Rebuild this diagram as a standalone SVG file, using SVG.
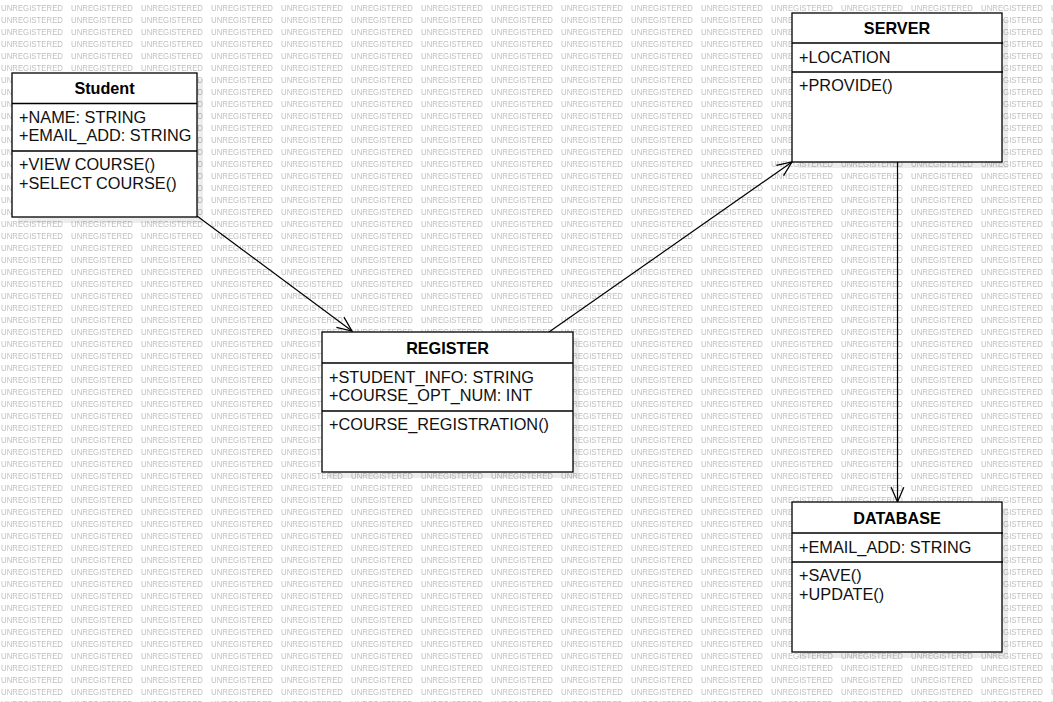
<svg xmlns="http://www.w3.org/2000/svg" width="1053" height="702" viewBox="0 0 1053 702">
<style>
.box{fill:#fff;stroke:#000;stroke-width:1.3}
.shadow{fill:#000;opacity:0.07}
.sep{stroke:#000;stroke-width:1.3}
.title{font-family:"Liberation Sans",Arial,sans-serif;font-size:16.2px;font-weight:bold;text-anchor:middle;fill:#000}
.txt{font-family:"Liberation Sans",Arial,sans-serif;font-size:16.3px;fill:#111}
.wm{font-family:"Liberation Sans",Arial,sans-serif;font-size:8.8px;fill:#bfbfbf}
.conn{stroke:#000;stroke-width:1.2;fill:none}
</style>
<defs>
<pattern id="wmp" x="0" y="0" width="70" height="12" patternUnits="userSpaceOnUse">
<text class="wm" x="1" y="11" textLength="62" lengthAdjust="spacingAndGlyphs">UNREGISTERED</text>
</pattern>
<marker id="arr" markerUnits="userSpaceOnUse" markerWidth="20" markerHeight="20" viewBox="-17 -9 19 18" refX="0" refY="0" orient="auto">
<path d="M-14,-6 L0,0 L-14,6" fill="none" stroke="#000" stroke-width="1.2"/>
</marker>
</defs>
<rect width="1053" height="702" fill="#fff"/>
<rect width="1053" height="702" fill="url(#wmp)"/>

<g id="connectors">
<path class="conn" d="M197,216 L352,331" marker-end="url(#arr)"/>
<path class="conn" d="M549,332 L792,162" marker-end="url(#arr)"/>
<path class="conn" d="M897.5,162 L897.5,502" marker-end="url(#arr)"/>
</g>

<g id="student">
<rect class="shadow" x="18" y="79" width="185" height="144"/>
<rect class="box" x="12" y="73" width="185" height="144"/>
<line class="sep" x1="12" y1="103.5" x2="197" y2="103.5"/>
<line class="sep" x1="12" y1="151" x2="197" y2="151"/>
<text class="title" x="104.5" y="94">Student</text>
<text class="txt" x="19" y="122.5">+NAME: STRING</text>
<text class="txt" x="19" y="140.5">+EMAIL_ADD: STRING</text>
<text class="txt" x="19" y="169.5">+VIEW COURSE()</text>
<text class="txt" x="19" y="188.5">+SELECT COURSE()</text>
</g>

<g id="register">
<rect class="shadow" x="328" y="338" width="251" height="140"/>
<rect class="box" x="322" y="332" width="251" height="140"/>
<line class="sep" x1="322" y1="363" x2="573" y2="363"/>
<line class="sep" x1="322" y1="411" x2="573" y2="411"/>
<text class="title" x="447.5" y="354">REGISTER</text>
<text class="txt" x="329" y="382.5">+STUDENT_INFO: STRING</text>
<text class="txt" x="329" y="400.5">+COURSE_OPT_NUM: INT</text>
<text class="txt" x="329" y="430">+COURSE_REGISTRATION()</text>
</g>

<g id="server">
<rect class="shadow" x="798" y="19" width="210" height="149"/>
<rect class="box" x="792" y="13" width="210" height="149"/>
<line class="sep" x1="792" y1="43" x2="1003" y2="43"/>
<line class="sep" x1="792" y1="72" x2="1003" y2="72"/>
<text class="title" x="897" y="34">SERVER</text>
<text class="txt" x="799" y="63">+LOCATION</text>
<text class="txt" x="799" y="91">+PROVIDE()</text>
</g>

<g id="database">
<rect class="shadow" x="798" y="508" width="210" height="150"/>
<rect class="box" x="792" y="502" width="210" height="150"/>
<line class="sep" x1="792" y1="533" x2="1003" y2="533"/>
<line class="sep" x1="792" y1="562" x2="1003" y2="562"/>
<text class="title" x="897" y="524">DATABASE</text>
<text class="txt" x="799" y="553">+EMAIL_ADD: STRING</text>
<text class="txt" x="799" y="581">+SAVE()</text>
<text class="txt" x="799" y="599.5">+UPDATE()</text>
</g>
</svg>
